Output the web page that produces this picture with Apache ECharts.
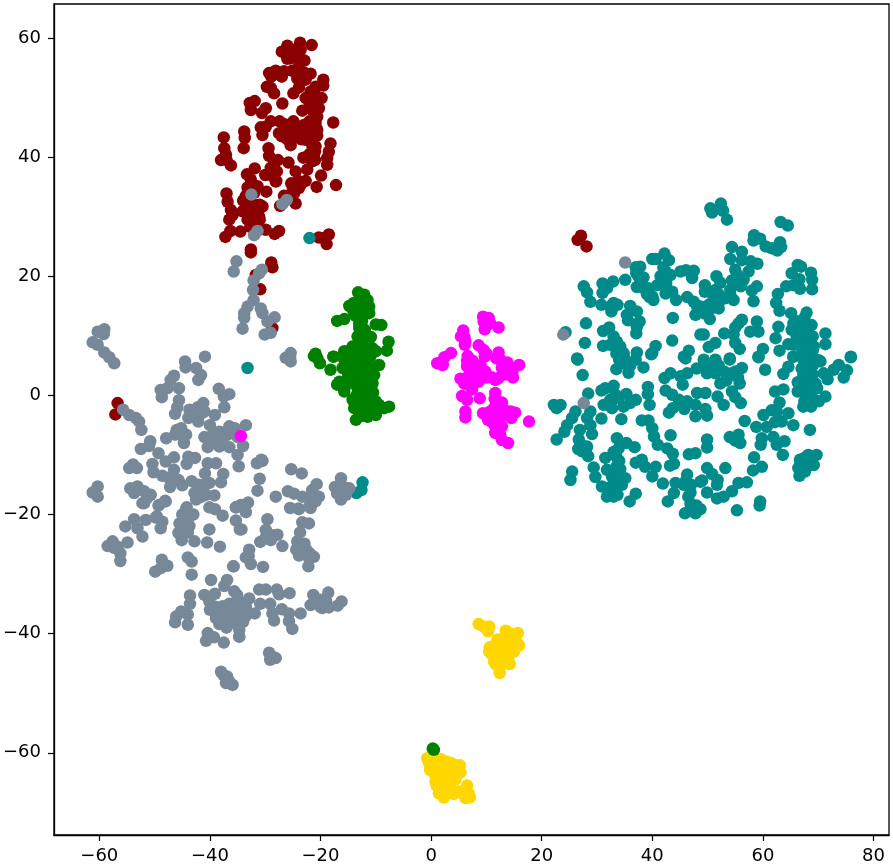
<!DOCTYPE html>
<html><head><meta charset="utf-8">
<script src="https://cdn.jsdelivr.net/npm/echarts@6/dist/echarts.min.js"></script>
<style>html,body{margin:0;padding:0;background:#fff}#c{width:893px;height:866px}</style>
</head><body><div id="c"></div>
<script>
const xTicks=[-60,-40,-20,0,20,40,60,80];
const yTicks=[-60,-40,-20,0,20,40,60];
const darkred=[[-23.7,59.2],[-21.6,58.8],[-26,58.7],[-27,57.7],[-25.7,57.9],[-24.5,58],[-25.4,56.6],[-23.9,56.6],[-22.9,56.2],[-24.5,57.1],[-23.6,58],[-29.3,54.1],[-28.1,54.5],[-26.6,54.4],[-25.1,54.5],[-23,54.2],[-21.8,54],[-28.9,53.5],[-24.2,53.2],[-22.7,53],[-19.5,53],[-19.5,52],[-20.9,51.8],[-29.7,51.8],[-28.4,50.7],[-29,51.6],[-23.9,51.7],[-24.9,50.7],[-21.8,51],[-19.8,49.9],[-20.9,50.4],[-22.7,49.9],[-21.5,49.3],[-26.9,49],[-31.9,49.4],[-32.8,49.1],[-32.6,47.9],[-29.9,48.2],[-30.6,47.4],[-20.3,48.2],[-21.5,47.9],[-23.3,47.8],[-20.6,46.8],[-20.9,45.7],[-17.7,45.8],[-27.4,46],[-29,46],[-30.8,45],[-29.9,45.1],[-30.5,43.7],[-24.9,46],[-23,45.4],[-21.8,45.1],[-24.5,44.6],[-20.6,44.6],[-20.6,43.6],[-22.4,44.3],[-33.8,44.3],[-33.7,43.2],[-33.9,41.5],[-37.5,43.3],[-27,43.5],[-25.9,44],[-25.4,42],[-24.2,43.4],[-22.7,42.9],[-20.9,41.8],[-18.2,42.3],[-29.4,41.5],[-29.3,40.2],[-37.4,41.5],[-37.1,40.4],[-38,39.5],[-36.2,38.6],[-37,39.5],[-18.5,40.9],[-21.2,40.4],[-23.1,39.9],[-18.8,39.8],[-18.8,38.7],[-27.7,39.5],[-25.8,39.1],[-21.5,39.3],[-22.4,37.9],[-29,38.2],[-31.9,38.1],[-27.9,37.6],[-24.5,37.6],[-19.9,36.9],[-33.3,37.1],[-32.6,36.2],[-28.1,35.9],[-22.7,36],[-25.3,35.6],[-20.7,35],[-17.2,35.3],[-33.2,34.9],[-31.4,35.1],[-23.9,34.8],[-29.8,34.2],[-37,33.9],[-24.8,33.9],[-26.6,33.5],[-36.8,32.5],[-34,32.7],[-24.5,32.2],[-27.3,31.8],[-32,32],[-30.5,31.7],[-36.2,31.1],[-34.1,30.9],[-35.9,30.3],[-31.1,30],[-32.6,30.3],[-33.2,29.5],[-32.7,28.3],[-36.3,27.6],[-37.2,26.6],[-34.5,27.5],[-29.9,27.8],[-27.5,27.6],[-28.3,27.1],[-32.6,24],[-32.6,24.5],[-28.9,22.3],[-28.7,21.5],[-18.5,27],[-20.3,26.5],[-18.9,25.4],[-19.3,26.4],[-31.7,20.2],[-30.9,17.8],[-28.7,11.3],[-56.7,-1.3],[-57.1,-3.2],[27.1,26.8],[26.5,26.1],[28.1,25],
[-22,50],[-22,48.5],[-21,49],[-21,47],[-22,46],[-21,46],[-23,44],[-22,43.5],[-23.5,43],[-24,45],[-25,44],[-26,43],[-26.5,45.5],[-27.5,44],[-21.5,43],[-21.5,42],[-22,40.5],[-21,39.5],[-21,41],[-24,55],[-26,56.5],[-25,58],[-26,58],[-28,54],[-27,53.5],[-32,29],[-31,29.5],[-32,31],[-31,31.5],[-31,32],[-33,31],[-33.5,33.5],[-33,33],[-32,34],[-30,37],[-28.5,38.5],[-29,37],[-28,36],[-25,34.5],[-25.5,33],[-24,36],[-23.5,35.5],[-36.5,29.5]];
const teal=[[-22,26.4],[-33.2,4.6],[-12.4,-14.6],[-12.6,-15.9],[-13.5,-16.4],[24.3,10.6],[40.6,22.9],[42.2,23.8],[43,22.7],[40,22.9],[37,21.5],[37.8,21.6],[37.1,20.5],[38.4,19.8],[37.8,19.4],[35.1,19.4],[32.9,19.1],[31,18.8],[31.8,18],[27.6,18.3],[28.2,17.3],[37.2,18.2],[41.5,20],[42.4,20.8],[43.3,20.2],[45.1,20.8],[46.1,21],[47.5,20.9],[47.2,19.7],[40.9,18.5],[39.3,18],[40,16.6],[40.2,16],[42.4,17.1],[43.6,17.4],[44.3,16],[46.3,16.5],[47.5,15.7],[48.1,14.9],[47.8,13.5],[28.8,15.7],[31,17.2],[30.8,15.2],[33,15.5],[32.4,14.9],[32.6,14.1],[33.7,15.2],[36,15],[37.2,14.1],[35.4,13.5],[35.6,12.6],[43.7,13],[37.7,12.4],[37.2,11.5],[37.1,10.4],[28,12.1],[32.2,11.4],[31.1,10.8],[27.8,8.8],[43.6,9.2],[33,9.9],[33.6,9],[34.2,8.2],[31.1,8.3],[40.6,8.3],[39.8,6.9],[37.2,7.2],[32.4,8.5],[34.8,7.1],[46.6,7.5],[45.7,6.5],[26.4,6.2],[48.7,10.2],
[50.5,31.4],[52.4,32.2],[50.8,30.7],[52.8,31],[53.5,29.5],[63.2,29.1],[64.5,28.5],[58.4,26.9],[59.5,26.3],[58.3,26],[60.5,25],[61.6,24.7],[63.1,25.7],[63.3,24.9],[62.6,24.3],[54.4,24.9],[56.2,24.1],[54.1,22.9],[56.2,22.7],[57.8,22.5],[59,22.1],[57.4,20.8],[55,21.1],[55.3,20.2],[66.3,21.9],[66.9,21.6],[65.2,20.5],[68.7,20.6],[68.9,19.4],[68.9,17.8],[51.6,20],[52.3,18.9],[49.5,18.5],[54.4,19.3],[56.5,19.4],[56,18.3],[58.9,18.3],[58,17.6],[64.2,18.3],[66.6,19.5],[65.5,18.5],[66.7,17.9],[62.7,17],[49.5,17.4],[51.4,17.7],[51.1,16.3],[54.1,17.7],[54.2,16.6],[53.2,16.3],[54.7,16],[58.3,15.8],[62.4,15.5],[63,14.2],[48.7,14.9],[50.2,15.2],[52,14.6],[49.3,13.8],[50.4,12.8],[65.1,13.8],[67.9,13.9],[67.5,13],[68.8,11.8],[65.5,12.1],[66.4,11.3],[65.2,11],[67.4,10.7],[69,9.9],[71.3,10.4],[71.3,8.6],[66.1,9.9],[64.6,8.6],[66.7,9.3],[65.5,8.5],[69.2,8.2],[67.9,7.6],[67.3,6.8],[68.9,6.6],[70.1,5.9],[75.9,6.5],[62.8,11.5],[62.3,9.6],[63,7.5],[65.5,6.5],[56.2,12.7],[55.6,12.1],[55,11.4],[58.9,12.4],[57.7,10.7],[59.2,10.7],[53,10.4],[54.7,10.2],[55,8.8],[55.8,7.8],[49.3,10.2],[51.4,8.8],[50.2,8.1],[60,7.8],[59.2,6.5],[54,6.2],[51.4,6],[49.3,6],
[26.5,6],[27.4,3.4],[33.6,7.4],[34.8,6.8],[33.5,4.4],[35.7,3.8],[34.8,5.4],[37,6],[38.4,4.7],[40,7.1],[46,6.2],[43.3,3.7],[42.2,2.9],[46.3,3.7],[45.5,1.8],[45.1,3.2],[33,1.6],[31.5,1.2],[30.8,0.8],[28.4,0.3],[39.2,1.4],[39.2,0.2],[39.5,-1.6],[42.4,0.8],[43.6,0.1],[44.8,-0.75],[48.1,0.4],[46.3,-1],[45.8,-2.3],[47.8,-1.6],[47.8,-3.5],[43.7,-2.15],[43,-2.9],[33.3,0.1],[35.3,0.25],[37,-0.75],[31.2,-1.6],[32.7,-2.15],[32.4,-0.75],[34.8,-1.9],[36,-1.3],[33.9,-0.5],[22.2,-1.6],[22.7,-2.15],[23.4,-1.6],[26.1,-2.7],[28.8,-2.7],[30.8,-3.9],[34.4,-4],[25.5,-3.8],[28.2,-3.8],[24.6,-5],[28.8,-5],[24.1,-6.1],[29.1,-6.5],[22.7,-7.4],[26.9,-5.8],[26.7,-7.4],[28.2,-8.6],[26.6,-9],[28.4,-10.2],[27.3,-9.4],[38.1,-4.2],[39.3,-4.2],[40,-5.5],[40.3,-6.9],[43.3,-6.7],[41,-8.3],[42.7,-8.9],[43.7,-9.8],[33.6,-7.2],[35.3,-8],[36.8,-8.7],[33.9,-8.9],[33.5,-10.3],[31.5,-10.5],[46.6,-9.9],[47.8,-9.7],[37,-11.3],[38.1,-10.8],[38.7,-12],[40.6,-12],[40,-13.6],[43.9,-11.5],[43.2,-11.8],[29.4,-12.1],[29.7,-13.7],[25.5,-12.8],[25.2,-14.2],[31.8,-12.5],[34.2,-12.4],[32.7,-13.6],[35.1,-13.9],[30.9,-15.3],[33,-15],[34.5,-15],[31.8,-17],[33.7,-16.7],[32.7,-16.1],[37,-16.5],[35.9,-17.8],[41.9,-14.8],[44.2,-14.7],[46.3,-13.3],[45.7,-15],[46.9,-16.3],[43.9,-16.4],[42.8,-17.8],[48.7,-14.5],[46.9,-18.2],[45.9,-19.8],[47.8,-19.8],
[51.4,5.9],[49.6,5.1],[49.9,3.7],[51.4,3.7],[54,6],[56.2,4.6],[54.4,3.7],[55.8,2],[52.3,2],[53.4,2.5],[60.4,4.3],[63.7,3.6],[64.6,4.8],[65.5,6.5],[59.2,6.4],[67.3,6],[67.3,3.4],[68.5,2.9],[70.4,5.7],[71,3.7],[71.7,2.7],[72.8,4.3],[73.7,5.1],[75.2,4.2],[74.6,3],[75.9,6.4],[69.5,2],[69.8,1.2],[66.3,2.2],[66.3,0.65],[68.3,0.9],[71.3,-0.2],[70.1,-1],[67.9,-0.75],[67.3,-1.9],[68.7,-1.9],[49.6,0.4],[51.8,-0.2],[54.4,0.65],[55,-0.3],[56,-1.3],[52.9,-1.6],[49.6,-2.3],[49.9,-3.4],[62.2,0.65],[63.7,1],[63,-1.2],[60.1,-3.3],[61.6,-2.5],[62.5,-2.7],[56.7,-4.3],[58.8,-5.3],[62.2,-4.5],[63.4,-4.4],[64.6,-3],[65.5,-5],[60.7,-5.3],[68.5,-5.8],[49.9,-7.4],[49.9,-8.75],[54,-7],[55.6,-6.6],[55,-7.6],[55.9,-8],[59.8,-7.2],[59.6,-8.3],[61.9,-7],[63.9,-7.7],[62.5,-8.3],[63.6,-10],[66.7,-10.8],[68.2,-10],[69.7,-10],[69.2,-11.7],[66.4,-12.2],[67.9,-12],[66.6,-13.5],[67.6,-12.8],[58.4,-10.4],[59.8,-12],[58.2,-12.6],[49.9,-12.2],[53.2,-12.2],[50.8,-13.2],[51.8,-14.2],[51.7,-15],[49,-14.3],[49.9,-16.3],[51.7,-17.3],[52.9,-17],[54.4,-16.1],[55.6,-14.7],[57.1,-14.6],[55.3,-19.3],[59.5,-17.8],[59.4,-18.5],[48.7,-19.1],
[66.5,12],[67,11.5],[66,12.5],[67,12],[67.5,11],[66,10.5],[66.5,8.5],[68,9],[68.5,8.5],[68,10],[67,8],[69,7.5],[68,6],[69,5],[68.5,4.5],[68,4],[67,4.5],[69,3.5],[67.5,2],[67,1],[68.5,0],[67.5,-1],[68,0.5],[69,-0.5],[67,-11],[68,-11],[67.5,-11.5],[68.5,-11],[67,-12],[67.5,-10.5],[66.8,-11.5],[68.5,-10.5],[50.5,4.5],[50.5,5],[52,5],[53,4],[50,4.5],[48,4.5],[38,19],[38.5,18],[39,17],[39.5,16.5],[42,21.5],[42,19.5],[42.5,18.8],[37.5,20],[52,17],[52,15.5],[50.5,14.5],[50,14],[33,-14],[33.5,-12],[34,-11],[33,-9.5],[33.5,-15.5],[32,-15.5],[33,-17],[34,-14],[28,-9],[27.5,-8.5],[46.5,-17],[47,-19],[48,-18.5],[46,-14.5],[47,-15],[34,8],[33.5,7],[35,6],[34,6],[36,5],[35.5,5.5],[55,4],[55.5,3]];
const gold=[[8.6,-38.4],[9.5,-38.8],[10.5,-38.8],[10.3,-39.6],[13.5,-39.5],[14.4,-40],[15.7,-39.9],[13.2,-40.8],[15,-40.9],[15.9,-42],[10.6,-42.3],[11.6,-41.9],[10.5,-43],[12.3,-42.7],[13.8,-42.2],[15,-43],[12.9,-43.8],[14.1,-43.6],[11.4,-44.7],[12.9,-45],[14.2,-45.1],[12.4,-46.6],[11.7,-45.2],[15.6,-41.6],[-0.7,-60.9],[-0.4,-61.7],[-0.2,-62.9],[1.8,-61.1],[3.6,-61.7],[5.2,-62.1],[5.3,-63.3],[3.8,-62.9],[1.7,-62.6],[0.5,-63.4],[2.3,-63.7],[0.8,-64.8],[2.6,-64.8],[4.4,-64.5],[1.4,-66.8],[2.3,-67.5],[3.2,-65.7],[4.1,-66.9],[6.5,-65.5],[5.6,-66.7],[6.8,-66.8],[6.2,-67.6],[7,-67.5],[1.7,-65.7],
[12,-41],[13,-41.5],[14,-41],[11,-43.5],[13.5,-43],[12,-44],[11.5,-43],[13,-44.5],[14.5,-41.8],[12.5,-45.5],[14,-40.5],[13,-42.5],[1,-62],[2.5,-62],[1,-61.5],[0.5,-62.5],[3,-63],[4,-63.5],[1.5,-63.5],[1.5,-64.5],[3.3,-64],[2,-66],[1,-65.5],[3,-66.5],[4.5,-63.5],[3.5,-65],[5,-66.5],[6.3,-66.2],[0,-61.8],[1.2,-63],[2.8,-61.5],[4.2,-62]];
const green=[[0.3,-59.3],[0.5,-59.5],[-13.2,17.3],[-12.1,16.9],[-11.5,16],[-13,16],[-14.8,15],[-11.2,14.9],[-14,15.5],[-13,15],[-11.2,13.8],[-13,13.8],[-13.6,13.3],[-15.7,12.8],[-17,12.5],[-10,11.9],[-9,11.8],[-13,11.3],[-13,10.2],[-13.3,9.9],[-10.9,9.8],[-7.7,9],[-8,7.5],[-12.4,9.3],[-14.2,8.2],[-10.6,7.9],[-10,7.4],[-15.7,7.4],[-17.6,6.5],[-13.3,7.4],[-12.1,7.1],[-14.5,6.2],[-15.7,6],[-13,6],[-11.5,5.7],[-9.4,5.1],[-16,4.6],[-18.2,4.3],[-13.9,4.6],[-11,4.6],[-14.2,3.2],[-10.3,3.4],[-11.8,2.9],[-16.6,2.3],[-17,1.8],[-10.6,2],[-15.7,0.65],[-13.3,1.2],[-11.2,1.2],[-12.1,0.65],[-14.2,-0.75],[-11.8,-0.2],[-12.7,-1.6],[-10,-1],[-9.4,-1.6],[-7.6,-1.9],[-8.5,-2.15],[-11.2,-2.7],[-10,-3.3],[-13,-3],[-12.1,-3],[-13.6,-4.1],[-13.9,-2.15],[-20.9,7],[-20.6,6.3],[-20.1,5.4],[-21.2,6.6],[-17.7,6.5],
[-13,8],[-12,8],[-14,7],[-13,5],[-12,5],[-14,5.5],[-15,5],[-12,4],[-13,3.5],[-13,2.5],[-12.5,2],[-15,3.5],[-15,7],[-11.5,7],[-11,6.5],[-12,11],[-12.5,12.5],[-13,12],[-14,14],[-12,15],[-12.5,14],[-13.5,0],[-13,-1],[-12,-2],[-11,-2],[-12.8,-3.5],[-11.5,-3.6],[-16,1.5],[-15,2],[-11,3.5],[-10.5,0.5],[-12,1.5],[-13,0.5]];
const slategray=[[35.1,22.3],[23.9,10.2],[27.6,-1.3],[-32.5,33.7],[-26.1,32.8],[-26.9,32.1],[-31.4,27.6],[-32,26.9],[-35.2,22.5],[-35.7,20.8],[-30.6,21.1],[-31.1,20.5],[-32.1,19.3],[-32.2,17.7],[-32.1,16],[-33.2,14.9],[-33.8,13.8],[-33.8,13],[-30.8,14.6],[-30.5,13.8],[-28.3,13.1],[-29.6,12.4],[-34.1,11.2],[-30.1,10.2],[-29,10.5],[-25.5,6.4],[-26.3,6.3],[-25.4,7.1],[-25.4,5.7],[-40.9,6.5],
[-59.1,11.1],[-60.3,10.7],[-59.2,10.3],[-61.2,8.9],[-60.3,8.5],[-59.1,7.2],[-58.2,6.4],[-57.3,5.4],[-55.7,-2.4],[-54.6,-3.3],[-53.4,-3.8],[-52.8,-4.4],[-52.4,-5.8],[-44.5,5.7],[-44.4,4.7],[-42.5,4.6],[-41.6,3.4],[-42.1,2.6],[-46.5,3.3],[-47.1,2.6],[-48.9,0.9],[-47.7,1.2],[-45.6,1.2],[-48.7,-0.3],[-45.6,-0.8],[-45.9,-2],[-46.3,-3.1],[-38.4,1.1],[-37.5,-0.2],[-36.5,0.2],[-37.4,-2],[-41.2,-1.3],[-42.2,-2],[-43.7,-2.4],[-41,-2.7],[-43.9,-3.8],[-42.1,-4.4],[-39.1,-3.3],[-42.8,-3.3],[-40,-5],[-39.5,-6.6],[-38.3,-6.1],[-38.3,-7.2],[-36.5,-5.2],[-36.8,-6.6],[-40.4,-8.7],[-38.3,-8.6],[-36.5,-8.7],[-45.2,-5.5],[-46.3,-6.6],[-47.9,-7.2],[-44.3,-6.6],[-44.7,-8],[-45.4,-6.6],[-50.8,-7.7],[-51,-8.5],[-52.5,-9],[-49.3,-9.7],[-43.9,-10.3],[-42.7,-10.5],[-44.2,-11.5],[-46.5,-10.4],[-48,-11.1],[-50.4,-11.5],[-50.2,-12.9],[-53.9,-11.6],[-54.6,-12.2],[-53.2,-12.2],[-46.5,-12.5],[-48.6,-13.5],[-47.4,-13.9],[-47.2,-15.4],[-45.7,-14.2],[-45,-15.1],[-40.4,-11.4],[-38.9,-11.4],[-40.9,-13.1],[-37.6,-13.2],[-38,-14.6],[-43.3,-14.4],[-40.1,-14.7],[-42.2,-15.6],[-41.3,-15.9],[-42.8,-16.4],[-40.7,-16.7],[-39.2,-16.8],[-42.5,-17.5],[-60.3,-15.3],[-61.2,-16.3],[-60.3,-17],[-54.4,-15.6],[-53.1,-15.3],[-53.7,-16.4],[-51.9,-16.1],[-50.7,-16.7],[-51.4,-17.3],[-52.2,-18.1],[-48.1,-17.7],[-49.3,-18.5],[-40.1,-18.8],[-39.1,-19.1],[-37.7,-20.2],[-44.2,-18.8],[-45,-20],[-53.7,-20.8],[-51.6,-20.9],[-49.6,-20.3],
[-51.9,-18.1],[-49.2,-18.4],[-48,-17.8],[-35.3,-18.8],[-55.3,-22],[-53.1,-22.3],[-49.8,-20.5],[-48.6,-21.2],[-48.9,-22.3],[-52.2,-23.7],[-44.3,-19],[-44.9,-20.1],[-43.7,-20.3],[-45.5,-21.5],[-43.7,-21.9],[-45.7,-23.1],[-45.1,-24.3],[-44.6,-20.9],[-40.1,-22.5],[-42.8,-24.5],[-40.5,-24.7],[-38.2,-25.4],[-34.6,-22.5],[-57.6,-24.5],[-58.5,-25.3],[-54.9,-24.7],[-56.7,-25.4],[-56.2,-26.5],[-56.2,-27.8],[-57.3,-25.6],[-44,-27.2],[-43.3,-27.9],[-43.3,-30.1],[-48.7,-27.6],[-47.7,-28.6],[-48.9,-29],[-49.9,-29.6],[-35.8,-28.7],[-39.8,-31],[-36.9,-31],[-37.4,-32],[-35.6,-32.9],[-39.1,-33.3],[-41,-33.5],[-40.1,-34.6],[-43.6,-33.6],[-43.6,-35],[-45.2,-36.3],[-44,-36.8],[-46.1,-37.1],[-46.3,-38.1],[-44,-38.5],[-37.7,-35.4],[-38.9,-37.4],[-38.3,-38.4],[-35.6,-36.6],[-36.2,-38.2],[-34.7,-40.5],[-35.2,-35.4],[-34.7,-37.6],[-40.4,-39.9],[-39.3,-40.6],[-40.7,-41.2],[-37.5,-41.5],[-38,-46.4],[-36.9,-47.2],[-37.1,-48.3],[-35.9,-48.6],
[-34.8,-11.9],[-30.7,-10.8],[-31.5,-11.4],[-31,-14],[-31.4,-16],[-25.3,-12.4],[-23.4,-13.1],[-28.1,-17],[-25.9,-16.1],[-24.8,-16.5],[-23.3,-17],[-20.7,-14.9],[-21.5,-15.9],[-20.3,-17],[-20.9,-17.8],[-25.5,-18.9],[-23.9,-19.1],[-21.8,-18.9],[-16.3,-13.9],[-17.4,-15.4],[-16.3,-15.9],[-14.8,-15.6],[-15.4,-16.7],[-16.3,-17.5],[-33.1,-18],[-35.3,-18.8],[-33.8,-18.8],[-33.5,-19.6],[-29.6,-20.8],[-29.9,-22.6],[-27.8,-23.4],[-26.9,-25.3],[-29,-24.3],[-30.9,-24.6],[-34.3,-22.5],[-23.3,-21.3],[-22.1,-21.5],[-23.7,-23],[-22.9,-24.9],[-24.2,-24.5],[-24.4,-25.9],[-23.9,-26.9],[-21.2,-27.1],[-22.1,-27.3],[-22.2,-28.7],[-32.9,-25.9],[-33.5,-27.2],[-32.6,-28.3],[-35.7,-28.7],[-30.4,-28.8],[-31.1,-32.6],[-29.9,-32.6],[-27.9,-32.6],[-27.5,-33.4],[-25.6,-33.2],[-32.9,-34.1],[-35.1,-33.5],[-34.5,-34.8],[-30.9,-35],[-29.1,-35],[-31.9,-36.6],[-28.7,-36.6],[-28.4,-37.8],[-27,-35.9],[-25.7,-36.6],[-25.7,-37.9],[-25.1,-39.2],[-23.6,-36.6],[-21.3,-33.5],[-21.8,-35.2],[-20,-34.3],[-18.6,-33.1],[-19.7,-35.7],[-18.5,-35.6],[-16.9,-35.3],[-16.2,-34.6],[-35.6,-36.8],[-34.4,-36.7],[-35.3,-38.2],[-34.7,-40.5],[-34.7,-39.4],[-29.3,-43.2],[-28.7,-44],[-28.1,-44.1],[-29.1,-44.4],[-40,-36],[-37,-39],[-33.5,-37],[-36.5,-35],[-35,-7],[-34,-8.5],[-35.5,-5.5],[-33.5,-5],[-35,-10],[-30.5,-11],[-34.4,-18.4],[-35.3,-21],
[-39.5,-36],[-38,-36],[-36,-37],[-38,-38],[-37,-37],[-37.5,-36.5],[-36.5,-36],[-39,-35.5],[-41,-7],[-39,-8],[-40,-7.5],[-37.5,-7],[-42,-3],[-41.5,-3],[-42,-15],[-41,-15],[-41.5,-17],[-43,-20],[-44.5,-22],[-44,-23],[-33,-27],[-28.5,-23.5],[-46,-5.8],[-22,-17],[-22,-18.5],[-24,-19],[-17,-16.5],[-15.5,-15.5],[-30,-24],[-35,-37.5],[-34,-38],[-33.5,-35.5],[-22.5,-26],[-22,-26.5],[-19,-34.5],[-20,-35.5],[-21,-34.5],[-29,-43.7],[-36.5,-48],[-37.5,-47]];
const magenta=[[9.4,13.2],[10.4,13],[9.5,12.4],[10.7,12.1],[12.2,11.4],[9.7,11.1],[5.8,10.9],[5.4,9.9],[6.2,9],[6.1,8.5],[8.6,8.4],[9.5,7.6],[9.7,6.5],[12.2,7.2],[11.8,6.2],[3.6,7.1],[2.4,6.4],[1.1,5.4],[2.1,5.1],[6.6,6.6],[13.8,5.5],[15.9,5.1],[12.8,4.6],[14.7,4],[14.8,3],[6.5,4.9],[7.7,4.7],[8.6,4.6],[9.8,4],[10.4,3.2],[11.6,2.6],[12.2,2.9],[5.3,2.8],[6.5,3],[8.6,2.3],[6.7,1.8],[7.4,1],[5.6,-0.1],[6.5,-0.75],[8.8,-0.5],[11.6,0.4],[11.5,-0.6],[12.8,-1.2],[6.2,-2.7],[6.2,-3.7],[9.4,-3],[10.7,-2.7],[10.3,-4.1],[11.9,-3.5],[13.2,-2.4],[14.4,-2.7],[15.2,-2.9],[14.5,-3.8],[17.7,-4.4],[11.6,-5.2],[12.8,-5.2],[11.6,-6.3],[12.5,-6.6],[12.8,-7.5],[13.9,-8],[-34.4,-6.8],
[9.8,12.5],[10.5,12.2],[5.7,10],[6,9.8],[8.8,3.5],[7,4],[8,4],[6,2],[9,5],[7.5,5.8],[13.5,4.5],[14,4.8],[13.5,3.5],[11,-4.5],[12,-4.5],[13,-3.3],[12,-1.8],[12.5,-3],[11.8,-0.9],[10,3],[11,3],[7,2.5],[12,-6],[6.5,5.8],[10,7],[11.5,-2],[12.5,6],[13,5.5]];
const groups=[[darkred,'#8b0000'],[teal,'#008b8b'],[gold,'#ffd700'],[green,'#008000'],[slategray,'#778899'],[magenta,'#ff00ff']];
const font='"DejaVu Sans"';
const fmt=v=>String(v).replace('-','\u2212');
const axisBase=(ticks,extra,label)=>Object.assign({
  type:'value',scale:false,splitLine:{show:false},
  axisLine:{show:true,onZero:false,lineStyle:{color:'#000',width:1.3}},
  axisTick:{show:true,customValues:ticks,length:6,lineStyle:{color:'#000',width:1.2}},
  axisLabel:Object.assign({show:true,customValues:ticks,formatter:fmt,fontFamily:font,fontSize:18,color:'#000'},label)
},extra);
const chart=echarts.init(document.getElementById('c'),null,{renderer:'canvas'});
chart.setOption({
  animation:false,backgroundColor:'#fff',
  grid:{left:53,right:4,top:4,bottom:31,containLabel:false,show:true,borderColor:'#000',borderWidth:1.3,backgroundColor:'transparent'},
  xAxis:axisBase(xTicks,{min:-68.2,max:82.8},{margin:12}),
  yAxis:axisBase(yTicks,{min:-73.8,max:65.7},{margin:13}),
  series:groups.map(([d,c])=>({type:'scatter',data:d,symbol:'circle',symbolSize:12.5,itemStyle:{color:c,opacity:1},clip:true,large:false,silent:true}))
});
</script></body></html>
